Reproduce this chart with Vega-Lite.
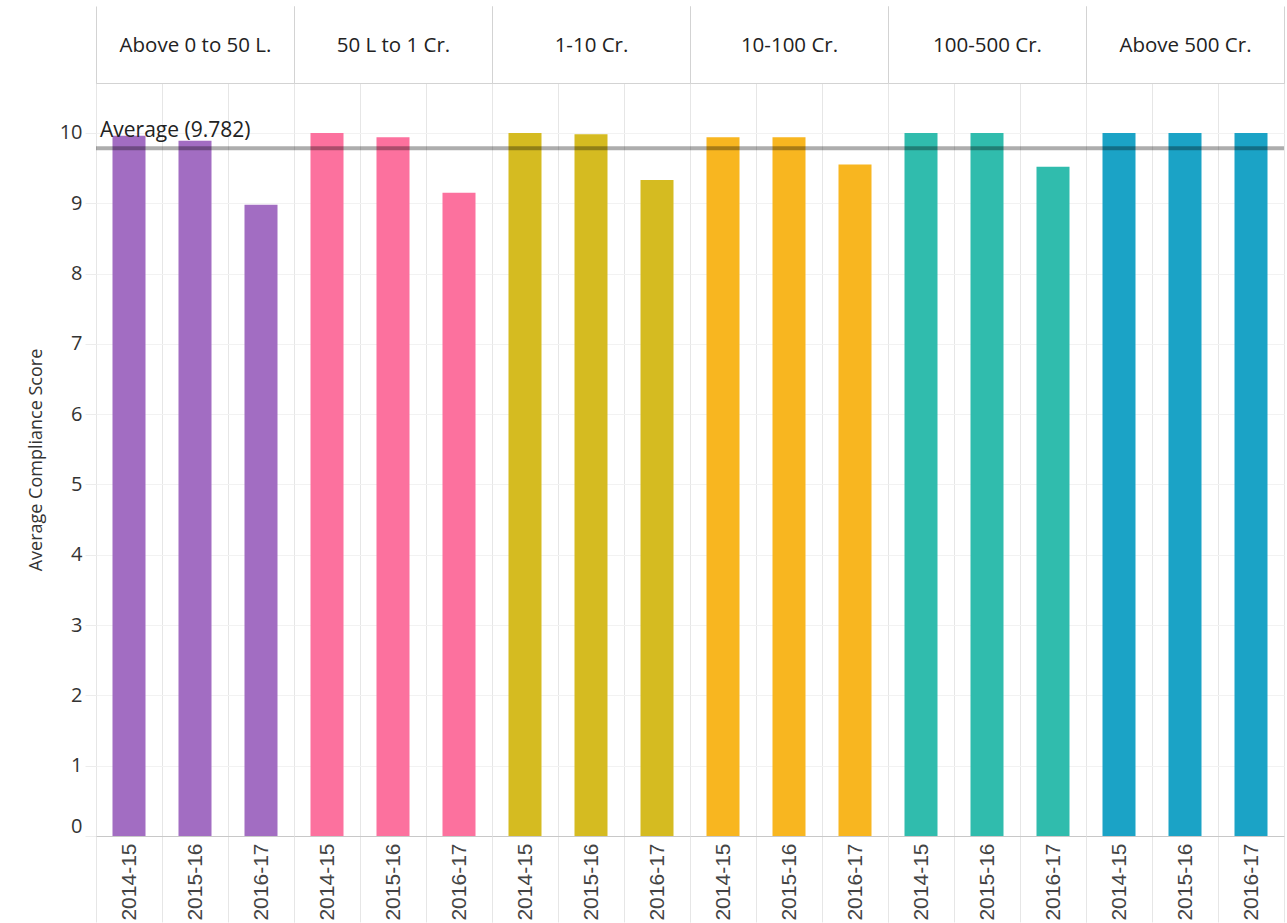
{
  "$schema": "https://vega.github.io/schema/vega-lite/v6.json",
  "padding": {"left": 27, "top": 5, "right": 0, "bottom": 0},
  "background": "white",
  "data": {"values": [
    {"class": "Above 0 to 50 L.", "year": "2014-15", "score": 9.96, "avg": 9.782},
    {"class": "Above 0 to 50 L.", "year": "2015-16", "score": 9.89, "avg": 9.782},
    {"class": "Above 0 to 50 L.", "year": "2016-17", "score": 8.98, "avg": 9.782},
    {"class": "50 L to 1 Cr.", "year": "2014-15", "score": 10.0, "avg": 9.782},
    {"class": "50 L to 1 Cr.", "year": "2015-16", "score": 9.94, "avg": 9.782},
    {"class": "50 L to 1 Cr.", "year": "2016-17", "score": 9.15, "avg": 9.782},
    {"class": "1-10 Cr.", "year": "2014-15", "score": 10.0, "avg": 9.782},
    {"class": "1-10 Cr.", "year": "2015-16", "score": 9.98, "avg": 9.782},
    {"class": "1-10 Cr.", "year": "2016-17", "score": 9.33, "avg": 9.782},
    {"class": "10-100 Cr.", "year": "2014-15", "score": 9.94, "avg": 9.782},
    {"class": "10-100 Cr.", "year": "2015-16", "score": 9.94, "avg": 9.782},
    {"class": "10-100 Cr.", "year": "2016-17", "score": 9.55, "avg": 9.782},
    {"class": "100-500 Cr.", "year": "2014-15", "score": 10.0, "avg": 9.782},
    {"class": "100-500 Cr.", "year": "2015-16", "score": 10.0, "avg": 9.782},
    {"class": "100-500 Cr.", "year": "2016-17", "score": 9.52, "avg": 9.782},
    {"class": "Above 500 Cr.", "year": "2014-15", "score": 10.0, "avg": 9.782},
    {"class": "Above 500 Cr.", "year": "2015-16", "score": 10.0, "avg": 9.782},
    {"class": "Above 500 Cr.", "year": "2016-17", "score": 10.0, "avg": 9.782}
  ]},
  "facet": {
    "column": {
      "field": "class",
      "type": "nominal",
      "sort": ["Above 0 to 50 L.", "50 L to 1 Cr.", "1-10 Cr.", "10-100 Cr.", "100-500 Cr.", "Above 500 Cr."],
      "header": {"title": null, "labels": false}
    }
  },
  "spacing": 0,
  "bounds": "flush",
  "resolve": {"scale": {"x": "independent"}},
  "spec": {
    "width": 198,
    "height": 753,
    "layer": [
      {
        "mark": {"type": "bar", "width": {"band": 0.5}},
        "encoding": {
          "x": {
            "field": "year", "type": "nominal", "sort": ["2014-15", "2015-16", "2016-17"],
            "scale": {"type": "band", "paddingInner": 0, "paddingOuter": 0},
            "axis": {
              "orient": "bottom", "title": null, "tickBand": "extent",
              "grid": true, "gridColor": "#e6e6e6",
              "ticks": true, "tickSize": 86, "tickColor": "#e6e6e6",
              "domain": true, "domainColor": "#c8c8c8",
              "labelAngle": -90, "labelAlign": "right", "labelBaseline": "middle",
              "labelPadding": -79, "labelFont": "Liberation Sans", "labelFontSize": 21, "labelColor": "#444"
            }
          },
          "y": {
            "field": "score", "type": "quantitative",
            "title": "Average Compliance Score",
            "scale": {"domain": [0, 10.71], "nice": false, "zero": false},
            "axis": {
              "title": "Average Compliance Score", "titleFont": "Open Sans", "titleFontSize": 18,
              "titleFontWeight": "normal", "titleColor": "#333", "titlePadding": 14,
              "values": [0, 1, 2, 3, 4, 5, 6, 7, 8, 9, 10], "format": "d",
              "grid": true, "gridColor": "#f2f2f2",
              "ticks": true, "tickSize": 11, "tickColor": "#ececec",
              "domain": false,
              "labelFont": "Open Sans", "labelFontSize": 20, "labelColor": "#333", "labelPadding": 3,
              "labelBaseline": {"condition": {"test": "datum.value === 0", "value": "bottom"}, "value": "middle"}
            }
          },
          "color": {
            "field": "class", "type": "nominal", "legend": null,
            "scale": {
              "domain": ["Above 0 to 50 L.", "50 L to 1 Cr.", "1-10 Cr.", "10-100 Cr.", "100-500 Cr.", "Above 500 Cr."],
              "range": ["#a26dc2", "#fc719e", "#d5bb21", "#f8b620", "#30bcad", "#1ba3c6"]
            }
          }
        }
      },
      {
        "mark": {"type": "rule", "color": "#000000", "opacity": 0.32, "strokeWidth": 4},
        "encoding": {
          "y": {"field": "avg", "aggregate": "mean", "type": "quantitative", "title": "Average Compliance Score",
                "scale": {"domain": [0, 10.71], "nice": false, "zero": false}}
        }
      },
      {
        "transform": [{"filter": "datum.class === 'Above 0 to 50 L.' && datum.year === '2014-15'"}],
        "mark": {"type": "text", "align": "left", "baseline": "alphabetic", "dx": 4, "dy": -11,
                 "font": "Open Sans", "fontSize": 21, "color": "#222"},
        "encoding": {
          "x": {"field": "year", "type": "nominal", "bandPosition": 0, "axis": null,
                "scale": {"type": "band", "paddingInner": 0, "paddingOuter": 0}},
          "y": {"field": "avg", "type": "quantitative", "title": "Average Compliance Score",
                "scale": {"domain": [0, 10.71], "nice": false, "zero": false}},
          "text": {"value": "Average (9.782)"}
        }
      },
      {
        "mark": {"type": "point", "opacity": 0},
        "encoding": {
          "x": {
            "field": "class", "type": "nominal",
            "scale": {"type": "band", "paddingInner": 0, "paddingOuter": 0},
            "axis": {
              "orient": "top", "title": null, "tickBand": "extent",
              "grid": false, "ticks": true, "tickSize": 77, "tickColor": "#d3d3d3",
              "domain": true, "domainColor": "#d3d3d3",
              "labelPadding": -39, "labelBaseline": "middle", "labelAngle": 0,
              "labelFont": "Open Sans", "labelFontSize": 20.5, "labelColor": "#222", "labelLimit": 196
            }
          }
        }
      }
    ],
    "resolve": {"scale": {"x": "independent"}}
  },
  "config": {
    "view": {"stroke": "#d3d3d3", "strokeWidth": 1}
  }
}
